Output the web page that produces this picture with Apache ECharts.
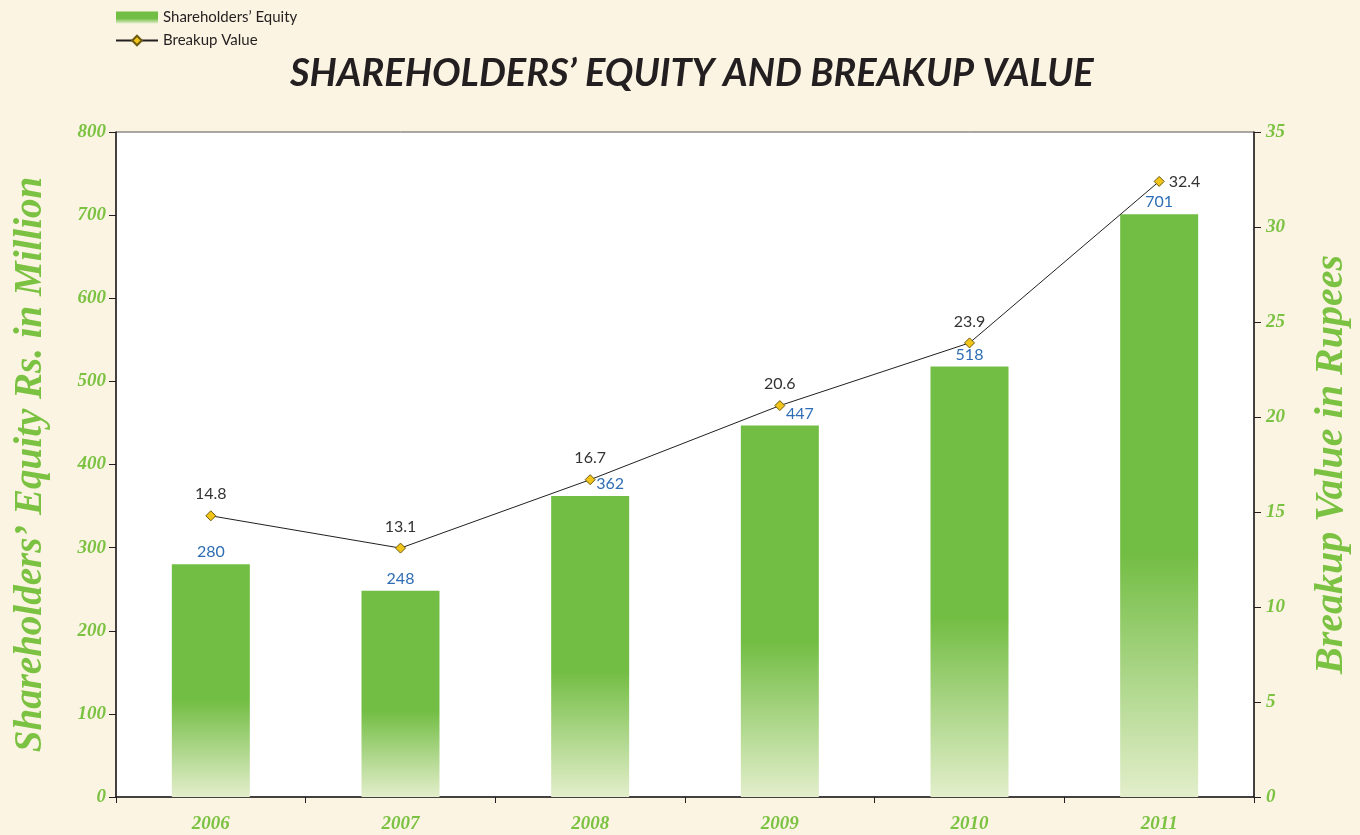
<!DOCTYPE html>
<html>
<head>
<meta charset="utf-8">
<script src="https://cdn.jsdelivr.net/npm/echarts@6/dist/echarts.min.js"></script>
<style>
  html, body { margin: 0; padding: 0; background: #fbf4e2; }
  #main { width: 1360px; height: 835px; }
</style>
</head>
<body>
<div id="main"></div>
<script>
var years = ["2006", "2007", "2008", "2009", "2010", "2011"];
var equity = [280, 248, 362, 447, 518, 701];
var breakup = [14.8, 13.1, 16.7, 20.6, 23.9, 32.4];

var green = "#7cc242";
var axisFont = "Liberation Serif";

// a few labels in the original are nudged aside so they do not collide
var barData = equity.map(function (v, i) {
  var d = { value: v };
  if (i === 2 || i === 3) d.label = { offset: [20, 0] };
  return d;
});
var lineData = breakup.map(function (v, i) {
  var d = { value: v };
  if (i === breakup.length - 1) d.label = { position: "right", distance: 4 };
  return d;
});

var myChart = echarts.init(document.getElementById("main"));
myChart.setOption({
  backgroundColor: "#fbf4e2",
  title: {
    text: "SHAREHOLDERS’ EQUITY AND BREAKUP VALUE",
    left: 285,
    top: 50,
    textStyle: {
      fontFamily: "Lato",
      fontStyle: "italic",
      fontWeight: "bold",
      fontSize: 38,
      color: "#231f20",
    },
  },
  legend: {
    orient: "vertical",
    left: 110,
    top: 5,
    itemGap: 8,
    itemWidth: 42,
    itemHeight: 12,
    textStyle: { fontFamily: "Lato", fontSize: 15, color: "#231f20" },
    data: [
      { name: "Shareholders’ Equity", icon: "rect" },
      { name: "Breakup Value" },
    ],
  },
  grid: {
    left: 116,
    right: 104,
    top: 132,
    bottom: 38,
    show: true,
    backgroundColor: "#ffffff",
    borderColor: "#555",
    borderWidth: 1,
  },
  xAxis: {
    type: "category",
    data: years,
    axisLine: { lineStyle: { color: "#231f20", width: 1.5 } },
    axisTick: { show: true, length: 6, lineStyle: { color: "#231f20" } },
    axisLabel: {
      margin: 18,
      color: green,
      fontFamily: axisFont,
      fontStyle: "italic",
      fontWeight: "bold",
      fontSize: 19,
    },
  },
  yAxis: [
    {
      type: "value",
      min: 0,
      max: 800,
      interval: 100,
      name: "Shareholders’ Equity Rs. in Million",
      nameLocation: "middle",
      nameGap: 66,
      nameTextStyle: {
        color: green,
        fontFamily: axisFont,
        fontStyle: "italic",
        fontWeight: "bold",
        fontSize: 39,
      },
      axisLine: { show: true, lineStyle: { color: "#231f20", width: 1.5 } },
      axisTick: { show: true, length: 7, lineStyle: { color: "#231f20" } },
      splitLine: { show: false },
      axisLabel: {
        margin: 10,
        color: green,
        fontFamily: axisFont,
        fontStyle: "italic",
        fontWeight: "bold",
        fontSize: 19,
      },
    },
    {
      type: "value",
      min: 0,
      max: 35,
      interval: 5,
      name: "Breakup Value in Rupees",
      nameLocation: "middle",
      nameGap: 58,
      nameRotate: 90,
      nameTextStyle: {
        color: green,
        fontFamily: axisFont,
        fontStyle: "italic",
        fontWeight: "bold",
        fontSize: 40,
      },
      axisLine: { show: true, lineStyle: { color: "#231f20", width: 1.5 } },
      axisTick: { show: true, length: 7, lineStyle: { color: "#231f20" } },
      splitLine: { show: false },
      axisLabel: {
        margin: 12,
        color: green,
        fontFamily: axisFont,
        fontStyle: "italic",
        fontWeight: "bold",
        fontSize: 19,
      },
    },
  ],
  series: [
    {
      name: "Shareholders’ Equity",
      type: "bar",
      barWidth: 78,
      data: barData,
      itemStyle: {
        color: new echarts.graphic.LinearGradient(0, 0, 0, 1, [
          { offset: 0, color: "#72bd43" },
          { offset: 0.58, color: "#72bd43" },
          { offset: 1, color: "#e3eecb" },
        ]),
      },
      label: {
        show: true,
        position: "top",
        distance: 4,
        color: "#2e6db4",
        fontFamily: "Lato",
        fontSize: 16,
      },
    },
    {
      name: "Breakup Value",
      type: "line",
      yAxisIndex: 1,
      data: lineData,
      symbol: "diamond",
      symbolSize: 10,
      lineStyle: { color: "#231f20", width: 1 },
      itemStyle: { color: "#f0c419", borderColor: "#6b5a10", borderWidth: 1 },
      label: {
        show: true,
        position: "top",
        distance: 8,
        color: "#333",
        fontFamily: "Lato",
        fontSize: 16,
      },
      z: 5,
    },
  ],
});
</script>
</body>
</html>
